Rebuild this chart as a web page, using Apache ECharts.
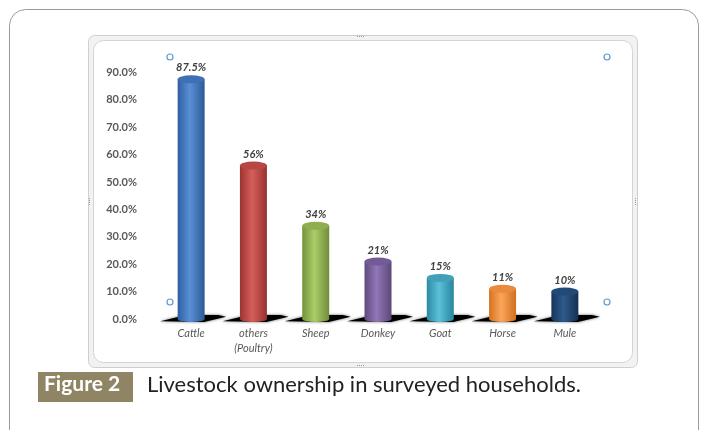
<!DOCTYPE html>
<html>
<head>
<meta charset="utf-8">
<script src="https://cdn.jsdelivr.net/npm/echarts@6/dist/echarts.min.js"></script>
<style>
html,body{margin:0;padding:0;background:#fff;}
#chart{width:703px;height:430px;}
</style>
</head>
<body>
<div id="chart"></div>
<script>
var categories = ['Cattle', 'others\n(Poultry)', 'Sheep', 'Donkey', 'Goat', 'Horse', 'Mule'];
var values = [87.5, 56, 34, 21, 15, 11, 10];
var valueLabels = ['87.5%', '56%', '34%', '21%', '15%', '11%', '10%'];
var yTicks = [0, 10, 20, 30, 40, 50, 60, 70, 80, 90];
var colors = [
  ['#2f5f9e', '#5a8fd6', '#2c5a96'],
  ['#9a3431', '#d65e5a', '#963230'],
  ['#76923c', '#aacd68', '#718c39'],
  ['#5f4a7d', '#9276b8', '#5c4778'],
  ['#2b8aa3', '#5cc0da', '#2a859d'],
  ['#d4731f', '#fba55b', '#cf701e'],
  ['#16365c', '#2f5a8c', '#152f52']
];
var topColors = ['#3f70b5', '#b54845', '#8eae50', '#745a96', '#44a0b8', '#e98a3e', '#234a77'];

function grad(c) {
  return new echarts.graphic.LinearGradient(0, 0, 1, 0, [
    {offset: 0, color: c[0]},
    {offset: 0.45, color: c[1]},
    {offset: 1, color: c[2]}
  ]);
}

var chart = echarts.init(document.getElementById('chart'), null, {renderer: 'canvas'});
var BW = 27;
var font = 'Lato, "Open Sans", sans-serif';

var barData = values.map(function (v, i) {
  return {value: v, itemStyle: {color: grad(colors[i])}};
});
var topData = values.map(function (v, i) {
  return {value: v, itemStyle: {color: topColors[i]}};
});
var botData = values.map(function (v, i) {
  return {value: v, itemStyle: {color: grad(colors[i])}};
});
var shadowData = values.map(function (v) { return {value: v}; });

function handle(x, y) {
  return {type: 'circle', shape: {cx: x, cy: y, r: 3}, style: {fill: '#fff', stroke: '#5b9bd5', lineWidth: 1.2}, z: 100};
}
function dots(x, y, vertical) {
  var arr = [];
  for (var k = 0; k < 4; k++) {
    arr.push({type: 'rect', shape: vertical ? {x: x, y: y + k * 2, width: 1, height: 1} : {x: x + k * 2, y: y, width: 1, height: 1}, style: {fill: '#999'}, z: 5});
  }
  return arr;
}

var graphics = [
  {type: 'rect', shape: {x: 9.5, y: 9.5, width: 689, height: 460, r: 16}, style: {fill: 'none', stroke: '#9a9a9a', lineWidth: 1}, z: 0},
  {type: 'rect', shape: {x: 88.5, y: 35.5, width: 549, height: 332, r: 6}, style: {fill: '#f2f2f2', stroke: '#cfcfcf', lineWidth: 1}, z: 0},
  {type: 'rect', shape: {x: 93.5, y: 40.5, width: 539, height: 322, r: 10}, style: {fill: '#fff', stroke: '#d4d4d4', lineWidth: 1}, z: 1},
  {type: 'rect', shape: {x: 38, y: 372, width: 95, height: 30}, style: {fill: '#8f8565'}, z: 2},
  {type: 'text', left: 44, top: 374, style: {text: 'Figure 2', fill: '#fff', font: 'bold 21px ' + font}, z: 3},
  {type: 'text', left: 147, top: 374, style: {text: 'Livestock ownership in surveyed households.', fill: '#222', font: '22px ' + font}, z: 3},
  handle(170, 57), handle(607, 57), handle(170, 302), handle(607, 302)
].concat(dots(357, 36, false)).concat(dots(357, 365, false)).concat(dots(89, 198, true)).concat(dots(635, 198, true));

chart.setOption({
  animation: false,
  graphic: graphics,
  grid: {left: 160, right: 107, top: 45, bottom: 111},
  xAxis: {
    type: 'category',
    z: 20,
    data: categories,
    axisLine: {show: false},
    axisTick: {show: false},
    axisLabel: {color: '#595959', fontStyle: 'italic', fontSize: 11, fontFamily: font, margin: 7, lineHeight: 15}
  },
  yAxis: {
    type: 'value',
    z: 20,
    min: 0, max: 100, interval: 10,
    splitLine: {show: false},
    axisLine: {show: false},
    axisTick: {show: false},
    axisLabel: {
      color: '#595959', fontSize: 11, fontWeight: 'bold', fontFamily: font, margin: 23,
      formatter: function (v) { return yTicks.indexOf(v) >= 0 ? v.toFixed(1) + '%' : ''; }
    }
  },
  series: [
    {
      type: 'pictorialBar', data: shadowData, symbol: 'path://M0,7 L22,1 L26,0 L58,0 L66,2 L44,8 Z',
      symbolSize: [66, 7], symbolPosition: 'start', symbolOffset: [2, 3],
      itemStyle: {color: '#000', shadowBlur: 3, shadowColor: 'rgba(0,0,0,0.6)'}, z: 12, silent: true
    },
    {
      type: 'bar', data: barData, barWidth: BW, z: 13
    },
    {
      type: 'pictorialBar', data: botData, symbol: 'circle', symbolSize: [BW, 6],
      symbolPosition: 'start', symbolOffset: [0, '50%'], z: 13
    },
    {
      type: 'pictorialBar', data: topData, symbol: 'circle', symbolSize: [BW, 8],
      symbolPosition: 'end', symbolOffset: [0, '-50%'], z: 14,
      label: {
        show: true, position: 'top', distance: 2,
        color: '#404040', fontStyle: 'italic', fontSize: 11, fontWeight: 'bold', fontFamily: font,
        formatter: function (p) { return valueLabels[p.dataIndex]; }
      }
    }
  ]
});
</script>
</body>
</html>
